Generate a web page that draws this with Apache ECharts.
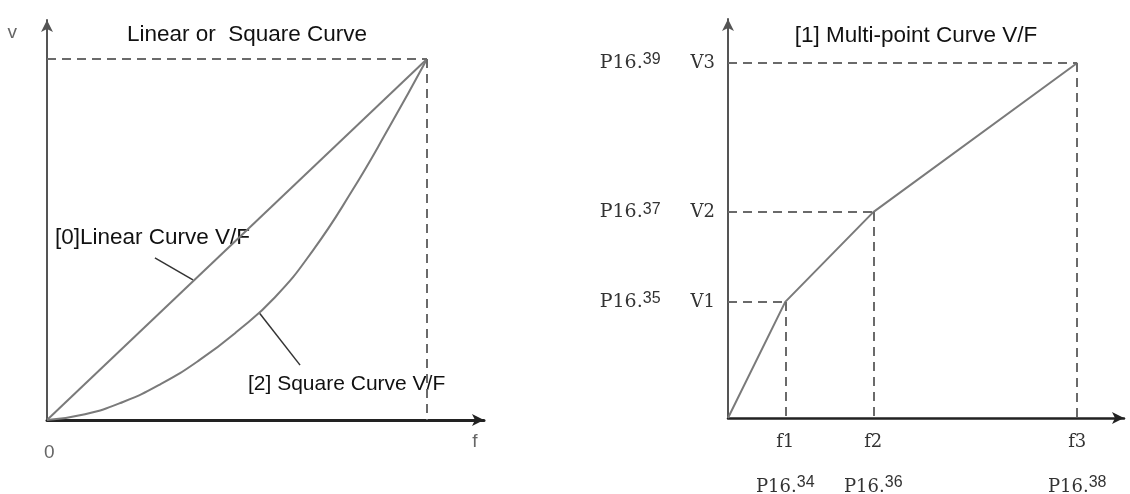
<!DOCTYPE html>
<html>
<head>
<meta charset="utf-8">
<script src="https://cdn.jsdelivr.net/npm/echarts@6/dist/echarts.min.js"></script>
<style>
  html, body { margin: 0; padding: 0; background: #fff; }
  #chart { width: 1130px; height: 494px; }
</style>
</head>
<body>
<div id="chart"></div>
<script>
// ---- Left panel: linear and square V/F curves (f normalised to 50, V to 100) ----
const linearF = [0, 50];
const linearV = [0, 100];
const squareF = [0, 5, 10, 15, 20, 25, 30, 35, 40, 45, 50];
const squareV = [0, 1.6, 5, 10, 16.5, 24.5, 34, 47, 63, 81, 100];
const leftMaxF = 50;
const leftMaxV = 100;
const leftOriginLabel = ['0'];
const linearLeaderF = [14.2, 19.2];
const linearLeaderV = [44.9, 38.8];
const squareLeaderF = [28.0, 33.3];
const squareLeaderV = [29.5, 15.2];

// ---- Right panel: multi-point V/F curve ----
const multiF = [0, 8.2, 20.8, 50];
const multiV = [0, 32.7, 58.0, 100];
const fTickLabels = ['f1', 'f2', 'f3'];
const fParamLabels = ['34', '36', '38'];
const vTickLabels = ['V1', 'V2', 'V3'];
const vParamLabels = ['35', '37', '39'];

function pairs(xs, ys) { return xs.map((x, i) => [x, ys[i]]); }

const dashStyle = { color: '#6a6a6a', width: 2, type: [9, 6] };
const curveStyle = { color: '#7a7a7a', width: 2 };
const leaderStyle = { color: '#333', width: 1.5 };

const leftDash = [
  [{ coord: [0, leftMaxV] }, { coord: [leftMaxF, leftMaxV] }],
  [{ coord: [leftMaxF, leftMaxV] }, { coord: [leftMaxF, 0] }]
];
const rightDash = [];
for (let i = 1; i < multiF.length; i++) {
  rightDash.push([{ coord: [0, multiV[i]] }, { coord: [multiF[i], multiV[i]] }]);
  rightDash.push([{ coord: [multiF[i], multiV[i]] }, { coord: [multiF[i], 0] }]);
}

const serifFont = '"DejaVu Serif", "Liberation Serif", serif';
const sansFont = '"Liberation Sans", Arial, sans-serif';

const chart = echarts.init(document.getElementById('chart'), null, { renderer: 'canvas' });
chart.setOption({
  backgroundColor: '#ffffff',
  animation: false,
  title: [
    { text: 'Linear or  Square Curve', left: 242, top: 18, textAlign: 'center',
      textStyle: { fontFamily: sansFont, fontSize: 22.5, fontWeight: 'normal', color: '#111' } },
    { text: '[1] Multi-point Curve V/F', left: 911, top: 19, textAlign: 'center',
      textStyle: { fontFamily: sansFont, fontSize: 22.5, fontWeight: 'normal', color: '#111' } }
  ],
  grid: [
    { left: 47, top: 20, width: 437, height: 400, outerBoundsMode: 'none', containLabel: false },
    { left: 728, top: 19, width: 396, height: 399, outerBoundsMode: 'none', containLabel: false }
  ],
  xAxis: [
    {
      gridIndex: 0, type: 'value', min: 0, max: 57.5,
      splitLine: { show: false }, axisTick: { show: false },
      axisLine: { lineStyle: { color: '#222', width: 3 }, symbol: ['none', 'arrow'], symbolSize: [9, 12] },
      axisLabel: { customValues: [0], formatter: (v, i) => leftOriginLabel[0], margin: 23,
        fontFamily: sansFont, fontSize: 19, color: '#666', align: 'left', padding: [0, 0, 0, -3] },
      name: 'f', nameLocation: 'end', nameGap: -9,
      nameTextStyle: { fontFamily: sansFont, fontSize: 19, color: '#666', align: 'center', verticalAlign: 'top', padding: [12, 0, 0, 0] }
    },
    {
      gridIndex: 1, type: 'value', min: 0, max: 56.7,
      splitLine: { show: false }, axisTick: { show: false },
      axisLine: { lineStyle: { color: '#222', width: 2.5 }, symbol: ['none', 'arrow'], symbolSize: [9, 12] },
      axisLabel: {
        customValues: multiF.slice(1), margin: 1,
        formatter: function (v) {
          const i = multiF.indexOf(v) - 1;
          return '{f|' + fTickLabels[i] + '}\n{e| }\n{p|P16.}{s|' + fParamLabels[i] + '}';
        },
        rich: {
          f: { fontFamily: serifFont, fontSize: 18, color: '#333', lineHeight: 46 },
          e: { fontSize: 8, lineHeight: 10 },
          p: { fontFamily: serifFont, fontSize: 18, color: '#333', lineHeight: 24 },
          s: { fontFamily: sansFont, fontSize: 16, color: '#333', lineHeight: 19, verticalAlign: 'top' }
        }
      }
    }
  ],
  yAxis: [
    {
      gridIndex: 0, type: 'value', min: 0, max: 110.8,
      splitLine: { show: false }, axisTick: { show: false }, axisLabel: { show: false },
      axisLine: { lineStyle: { color: '#555', width: 2 }, symbol: ['none', 'arrow'], symbolSize: [9, 12] },
      name: 'v', nameLocation: 'end', nameGap: -13,
      nameTextStyle: { fontFamily: sansFont, fontSize: 19, color: '#666', align: 'right', verticalAlign: 'middle', padding: [0, 30, 0, 0] }
    },
    {
      gridIndex: 1, type: 'value', min: 0, max: 112.4,
      splitLine: { show: false }, axisTick: { show: false },
      axisLine: { lineStyle: { color: '#555', width: 2 }, symbol: ['none', 'arrow'], symbolSize: [9, 12] },
      axisLabel: {
        customValues: multiV.slice(1), margin: 13,
        formatter: function (v) {
          const i = multiV.indexOf(v) - 1;
          return '{p|P16.}{s|' + vParamLabels[i] + '}{g|}{v|' + vTickLabels[i] + '}';
        },
        rich: {
          p: { fontFamily: serifFont, fontSize: 19, color: '#333', lineHeight: 22 },
          s: { fontFamily: sansFont, fontSize: 16, color: '#333', lineHeight: 19, verticalAlign: 'top' },
          g: { width: 30 },
          v: { fontFamily: serifFont, fontSize: 18, color: '#333', lineHeight: 22 }
        }
      }
    }
  ],
  series: [
    {
      name: 'Linear', type: 'line', xAxisIndex: 0, yAxisIndex: 0,
      data: pairs(linearF, linearV), showSymbol: false, lineStyle: curveStyle, silent: true,
      markLine: { silent: true, symbol: ['none', 'none'], label: { show: false }, lineStyle: dashStyle, data: leftDash }
    },
    {
      name: 'Square', type: 'line', xAxisIndex: 0, yAxisIndex: 0, smooth: true,
      data: pairs(squareF, squareV), showSymbol: false, lineStyle: curveStyle, silent: true
    },
    {
      name: 'LinearLeader', type: 'line', xAxisIndex: 0, yAxisIndex: 0,
      data: pairs(linearLeaderF, linearLeaderV), showSymbol: false, lineStyle: leaderStyle, silent: true
    },
    {
      name: 'SquareLeader', type: 'line', xAxisIndex: 0, yAxisIndex: 0,
      data: pairs(squareLeaderF, squareLeaderV), showSymbol: false, lineStyle: leaderStyle, silent: true
    },
    {
      name: 'Multi-point', type: 'line', xAxisIndex: 1, yAxisIndex: 1,
      data: pairs(multiF, multiV), showSymbol: false, lineStyle: curveStyle, silent: true,
      markLine: { silent: true, symbol: ['none', 'none'], label: { show: false }, lineStyle: dashStyle, data: rightDash }
    }
  ],
  graphic: [
    { type: 'text', left: 55, top: 226, silent: true,
      style: { text: '[0]Linear Curve V/F', fontFamily: sansFont, fontSize: 22.5, fill: '#111' } },
    { type: 'text', left: 248, top: 374, silent: true,
      style: { text: '[2] Square Curve V/F', fontFamily: sansFont, fontSize: 21, fill: '#111' } }
  ]
});
</script>
</body>
</html>
